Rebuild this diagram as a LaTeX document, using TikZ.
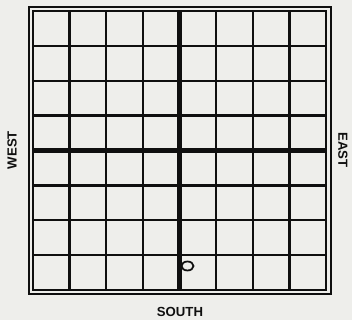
\documentclass[tikz,border=0pt]{standalone}
\usepackage{fontspec}
\setsansfont{Liberation Sans}
\usepackage{tikz}
\usetikzlibrary{positioning,calc}
\definecolor{paper}{RGB}{238,238,235}
\definecolor{ink}{RGB}{15,15,15}

\begin{document}
\begin{tikzpicture}[x=0.02cm,y=-0.02cm,
  gridline/.style={ink,line width=1.3pt},
  axisline/.style={ink,line width=2.5pt},
  frameline/.style={ink,line width=1pt},
  compass/.style={ink,font=\sffamily\bfseries\fontsize{7.5}{9}\selectfont}]
\fill[paper] (0,0) rectangle (352,320);
\useasboundingbox (0,0) rectangle (352,320);
% frames
\draw[frameline] (29,7) rectangle (331,294);
\draw[frameline] (33,11) rectangle (326,290);
% grid
\foreach \i in {1,2,3,5,6,7} {
  \draw[gridline] ({33+\i*36.625},11) -- ({33+\i*36.625},290);
  \draw[gridline] (33,{11+\i*34.875}) -- (326,{11+\i*34.875});
}
% axes
\draw[axisline] (179.5,11) -- (179.5,290);
\draw[axisline] (33,150.5) -- (326,150.5);
% mark
\draw[ink,line width=1pt] (187.5,266) ellipse (6 and 4.5);
% labels
\node[compass,rotate=90] (west) at (12,150) {WEST};
\node[compass,rotate=-90] (east) at (343,150) {EAST};
\node[compass] (south) at (180,312) {SOUTH};
\end{tikzpicture}
\end{document}
